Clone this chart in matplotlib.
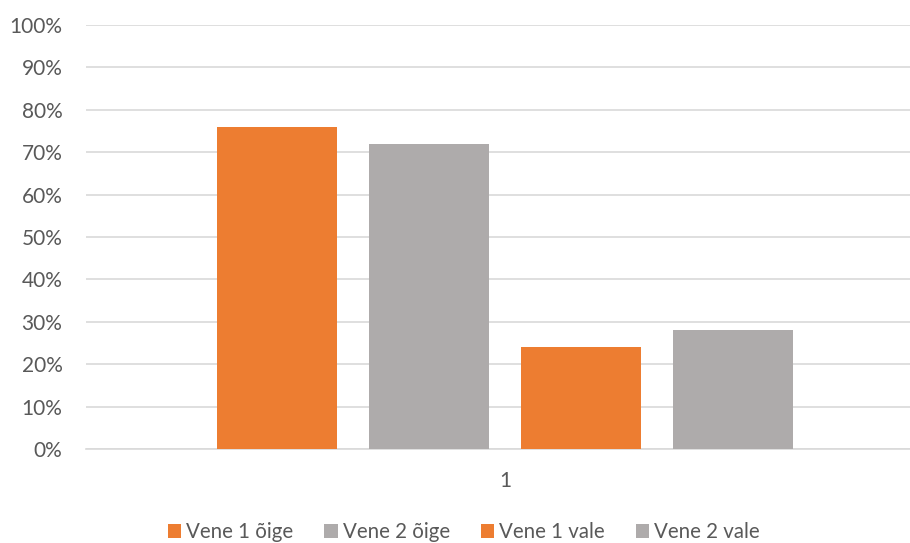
import numpy as np
import matplotlib
matplotlib.use("Agg")
import matplotlib.pyplot as plt
from matplotlib.ticker import PercentFormatter

# data
categories = ["1"]
series_names = ["Vene 1 õige", "Vene 2 õige", "Vene 1 vale", "Vene 2 vale"]
series_values = [76, 72, 24, 28]
series_colors = ["#ED7D31", "#AEABAB", "#ED7D31", "#AEABAB"]

plt.rcParams['font.family'] = ['Lato', 'DejaVu Sans']
text_color = "#595959"

fig = plt.figure(figsize=(9.1, 5.43), dpi=100)
# plot area: left ~86px, bottom 0% at y=449, top 100% at y=25
ax = fig.add_axes([86/910, 1 - 449/543, 838/910, 424/543])

width = 0.143
step = 0.1814
offsets = (np.arange(len(series_values)) - 1.5) * step
x = np.arange(len(categories))
for i, (name, val, col) in enumerate(zip(series_names, series_values, series_colors)):
    ax.bar(x + offsets[i], [val], width=width, color=col, label=name, zorder=3)

ax.set_xlim(-0.5, 0.5)
ax.set_ylim(0, 100)
ax.set_yticks(np.arange(0, 101, 10))
ax.yaxis.set_major_formatter(PercentFormatter(decimals=0))
ax.set_xticks(x)
ax.set_xticklabels(categories)

ax.grid(axis='y', color="#D9D9D9", linewidth=1.2, zorder=0)
for side in ["top", "right", "left"]:
    ax.spines[side].set_visible(False)
ax.spines["bottom"].set_color("#D9D9D9")
ax.spines["bottom"].set_linewidth(1.2)
ax.tick_params(axis='both', length=0, labelsize=15, colors=text_color)
ax.tick_params(axis='y', pad=17)
ax.tick_params(axis='x', pad=16)

leg = fig.legend(loc='center', bbox_to_anchor=(0.5 + 9/910, 1 - 532/543), ncol=4,
                 frameon=False, fontsize=14.8, handlelength=0.65, handleheight=0.65,
                 handletextpad=0.25, columnspacing=1.5, labelcolor=text_color)

fig.savefig("out.png", dpi=100)
